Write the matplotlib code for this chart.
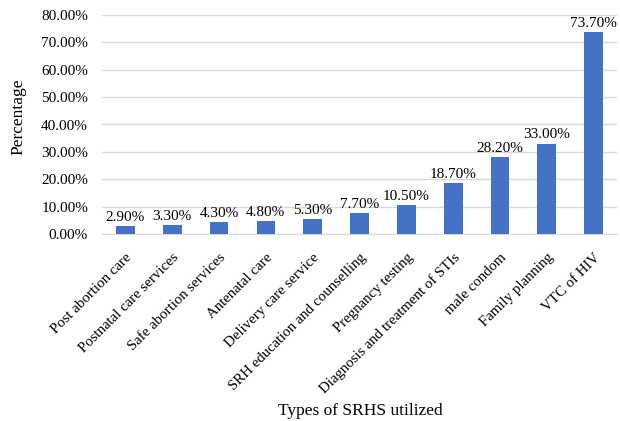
import matplotlib.pyplot as plt
import numpy as np

plt.rcParams['font.family'] = ['Liberation Serif', 'DejaVu Serif']

services = ["Post abortion care", "Postnatal care services", "Safe abortion services",
            "Antenatal care", "Delivery care service", "SRH education and counselling",
            "Pregnancy testing", "Diagnosis and treatment of STIs", "male condom",
            "Family planning", "VTC of HIV"]
percent = [2.9, 3.3, 4.3, 4.8, 5.3, 7.7, 10.5, 18.7, 28.2, 33.0, 73.7]
yticks = [0, 10, 20, 30, 40, 50, 60, 70, 80]

fig = plt.figure(figsize=(6.2, 4.21), dpi=100)
ax = fig.add_axes([102/620, 1-234/421, 515/620, 219/421])

x = np.arange(len(services))
ax.bar(x, percent, width=0.4, color='#4472C4', zorder=3)
for xi, v in zip(x, percent):
    ax.text(xi, v + 0.8, "%.2f%%" % v, ha='center', va='bottom', fontsize=11)

ax.set_xlim(-0.5, len(services) - 0.5)
ax.set_ylim(0, 80)
ax.set_yticks(yticks)
ax.set_yticklabels(["%.2f%%" % t for t in yticks], fontsize=11)
ax.set_xticks(x)
ax.set_xticklabels(services, rotation=45, ha='right', va='top', rotation_mode='anchor', fontsize=10.7)
ax.tick_params(axis='both', length=0)
ax.tick_params(axis='x', pad=12)
ax.tick_params(axis='y', pad=10)
ax.grid(axis='y', color='#D9D9D9', linewidth=1, zorder=0)
for s in ['top', 'right', 'left']:
    ax.spines[s].set_visible(False)
ax.spines['bottom'].set_color('#D9D9D9')

fig.text(360/620, 1-411/421, "Types of SRHS utilized", ha='center', va='center', fontsize=12.5)
fig.text(18/620, 1-117/421, "Percentage", ha='center', va='center', rotation=90, fontsize=12.5)

fig.savefig("out.png", dpi=100)
